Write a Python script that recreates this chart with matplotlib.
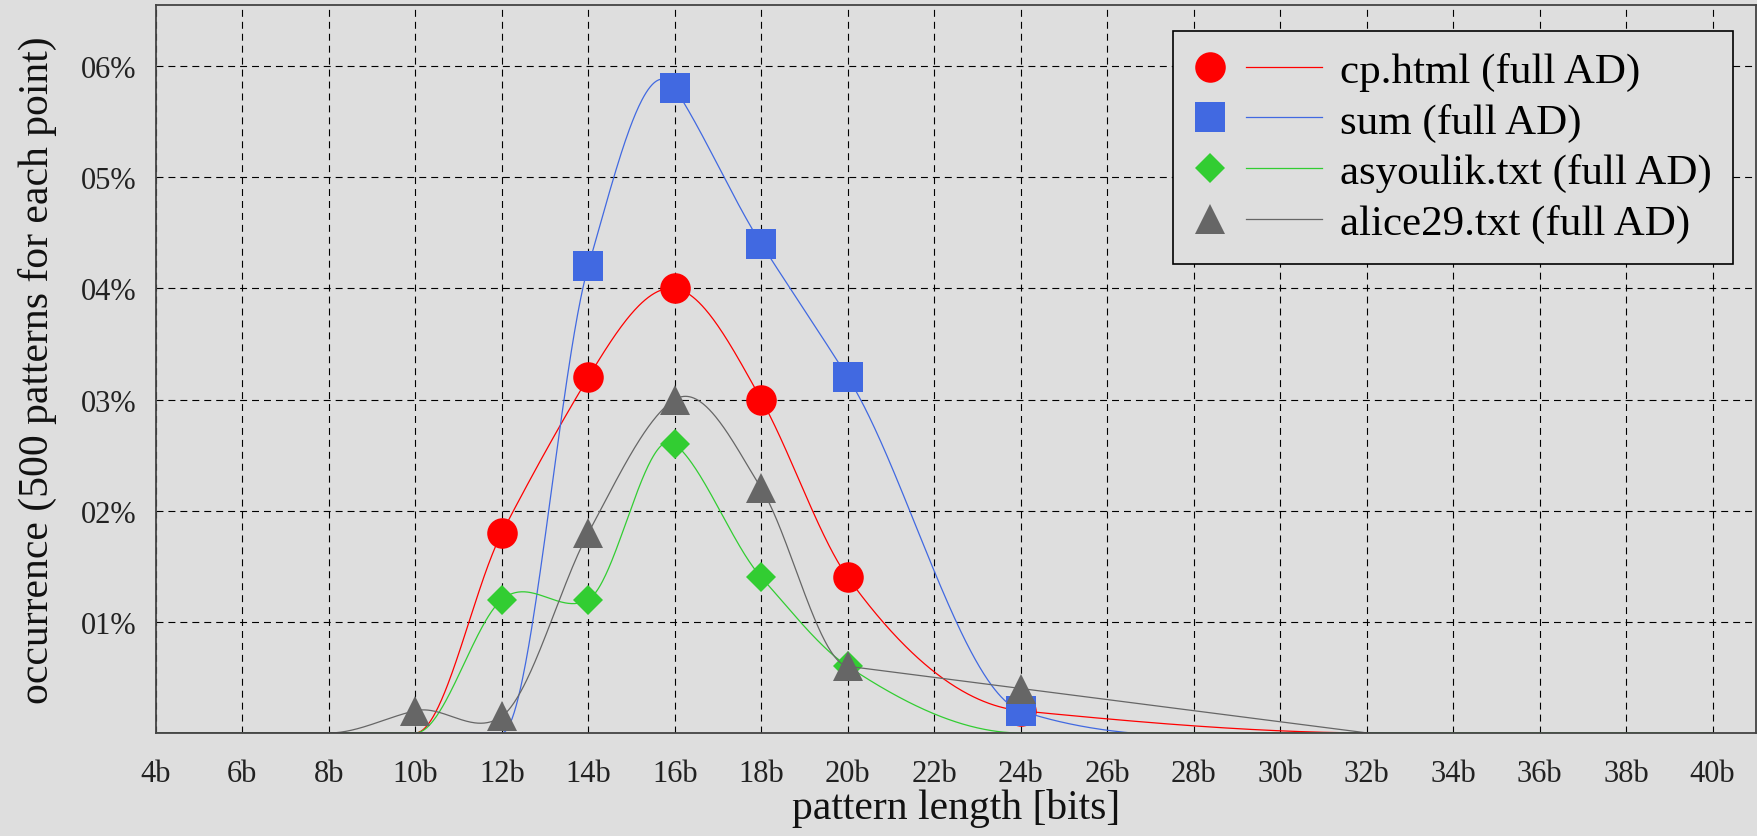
import numpy as np
import matplotlib
matplotlib.use('Agg')
import matplotlib.pyplot as plt
from matplotlib.legend_handler import HandlerBase
from matplotlib.lines import Line2D

plt.rcParams['font.family'] = ['Liberation Serif', 'DejaVu Serif']
plt.rcParams['lines.scale_dashes'] = False

# pattern lengths that were measured (bits)
lengths = [4, 6, 8, 10, 12, 14, 16, 18, 20, 24, 32, 40]

# occurrence values, same order as lengths
cp_html = [0, 0, 0, 0, 0.018, 0.032, 0.040, 0.030, 0.014, 0.002, 0, 0]
sum_ad = [0, 0, 0, 0, 0, 0.042, 0.058, 0.044, 0.032, 0.002, 0, 0]
asyoulik = [0, 0, 0, 0, 0.012, 0.012, 0.026, 0.014, 0.006, 0, 0, 0]
alice29 = [0, 0, 0, 0.002, 0.0015, 0.018, 0.030, 0.022, 0.006, 0.004, 0, 0]

labels = ['cp.html (full AD)', 'sum (full AD)', 'asyoulik.txt (full AD)', 'alice29.txt (full AD)']
xticks = list(range(4, 41, 2))
xticklabels = [str(v) + 'b' for v in xticks]
yticks = [0.01, 0.02, 0.03, 0.04, 0.05, 0.06]
yticklabels = ['01%', '02%', '03%', '04%', '05%', '06%']

bg = '#dedede'


def akima(x, y, n=1500):
	# Akima spline through the points
	x = np.asarray(x, float)
	y = np.asarray(y, float)
	h = np.diff(x)
	m = np.diff(y) / h
	mm = np.concatenate([[0, 0], m, [0, 0]])
	mm[1] = 2 * mm[2] - mm[3]
	mm[0] = 2 * mm[1] - mm[2]
	mm[-2] = 2 * mm[-3] - mm[-4]
	mm[-1] = 2 * mm[-2] - mm[-3]
	t = np.zeros(len(x))
	for i in range(len(x)):
		w1 = abs(mm[i + 3] - mm[i + 2])
		w2 = abs(mm[i + 1] - mm[i])
		if w1 + w2 > 1e-12:
			t[i] = (w1 * mm[i + 1] + w2 * mm[i + 2]) / (w1 + w2)
		else:
			t[i] = (mm[i + 1] + mm[i + 2]) / 2
	xs = np.linspace(x[0], x[-1], n)
	k = np.clip(np.searchsorted(x, xs) - 1, 0, len(x) - 2)
	s = (xs - x[k]) / h[k]
	ys = (2 * s**3 - 3 * s**2 + 1) * y[k] + (s**3 - 2 * s**2 + s) * h[k] * t[k] \
		+ (-2 * s**3 + 3 * s**2) * y[k + 1] + (s**3 - s**2) * h[k] * t[k + 1]
	return xs, ys


class MarkLine(HandlerBase):
	# marker on the left, short line on the right
	def create_artists(self, legend, orig_handle, xdescent, ydescent, width, height, fontsize, trans):
		pt, ln = orig_handle
		y = height / 2 - ydescent
		x0 = -xdescent
		px = 100 / 72
		mk = Line2D([x0 + 16 / px], [y], marker=pt.get_marker(), ms=pt.get_markersize(),
			color=pt.get_color(), mew=0, ls='none')
		seg = Line2D([x0 + 52 / px, x0 + width], [y, y], color=ln.get_color(), lw=ln.get_linewidth())
		mk.set_transform(trans)
		seg.set_transform(trans)
		return [seg, mk]


fig = plt.figure(figsize=(17.58, 8.37), dpi=100)
fig.patch.set_facecolor(bg)
ax = fig.add_axes([0.0887, 0.1231, 0.9101, 0.8698])
ax.set_facecolor(bg)

series = [
	(cp_html, '#ff0000', 'o', 22),
	(sum_ad, '#4169e1', 's', 22),
	(asyoulik, '#32cd32', 'D', 15.5),
	(alice29, '#666666', '^', 22),
]

handles = []
for i, (vals, col, mk, ms) in enumerate(series):
	xs, ys = akima(lengths, vals)
	ln, = ax.plot(xs, ys, color=col, lw=0.9, zorder=2 + i)
	x = np.array(lengths)
	y = np.array(vals)
	keep = y > 0
	pt, = ax.plot(x[keep], y[keep], mk, color=col, ms=ms, mew=0, ls='none', zorder=2.5 + i)
	handles.append((pt, ln))

ax.set_xlim(4, 41)
ax.set_ylim(0, 0.0655)
ax.set_xticks(xticks)
ax.set_xticklabels(xticklabels)
ax.set_yticks(yticks)
ax.set_yticklabels(yticklabels)
ax.tick_params(length=0, labelsize=22, colors='#222222')
ax.tick_params(axis='x', pad=19)
ax.tick_params(axis='y', pad=14)
ax.grid(True, color='black', lw=0.8, linestyle=(0, (5, 3.6)))
ax.set_axisbelow(True)
for s in ax.spines.values():
	s.set_color('#444444')
	s.set_linewidth(1.3)
	s.set_zorder(20)

ax.set_xlabel('pattern length [bits]', fontsize=30, color='#111111')
ax.set_ylabel('occurrence (500 patterns for each point)', fontsize=30, color='#111111')
ax.xaxis.set_label_coords(0.5, -0.076)
ax.yaxis.set_label_coords(-0.062, 0.5)

leg = ax.legend(handles, labels, handler_map={tuple: MarkLine()},
	loc='upper right', bbox_to_anchor=(0.9856, 0.9643), borderaxespad=0, fontsize=31,
	handlelength=2.97, handletextpad=0.435, borderpad=0.48, labelspacing=0.27,
	fancybox=False, edgecolor='black', facecolor=bg, framealpha=1)
leg.get_frame().set_linewidth(1.2)
leg.set_zorder(10)

plt.savefig('out.png', dpi=100, facecolor=bg)
